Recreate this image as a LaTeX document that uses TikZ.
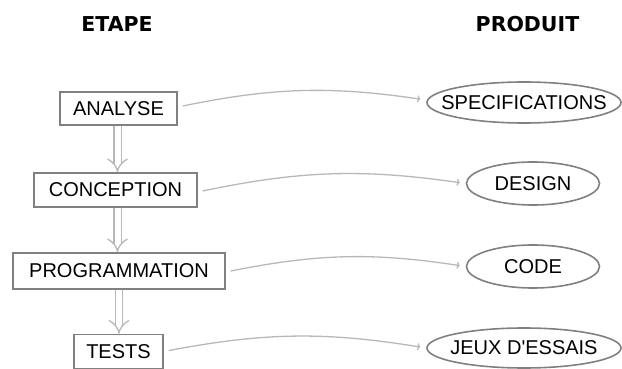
\documentclass[tikz,border=0pt]{standalone}
\usepackage{fontspec}
\setmainfont{Liberation Sans}
\newfontfamily\headfont{DejaVu Sans}
\usetikzlibrary{arrows.meta,shapes.geometric}
\definecolor{boxgray}{HTML}{808080}
\definecolor{linegray}{HTML}{B8B8B8}
\newcommand\zwtext[1]{\makebox[0pt]{#1}}
\tikzset{
  stepbox/.style={draw=boxgray, line width=1.6pt, inner sep=0pt, minimum height=34pt,
    font=\fontsize{20}{22}\selectfont},
  prodell/.style={ellipse, draw=boxgray, line width=1.6pt, inner sep=0pt,
    font=\fontsize{20}{22}\selectfont},
  heading/.style={font=\headfont\bfseries\fontsize{20.5}{22}\selectfont},
  flow/.style={draw=linegray, double=white, double distance=6pt, line width=1.3pt, -{Implies}},
  conn/.style={draw=linegray, line width=1.3pt, -{To[length=3pt,width=7pt]}, shorten <=5pt, shorten >=6pt, bend left=10}
}
\begin{document}
\begin{tikzpicture}[x=1pt,y=-1pt]
\useasboundingbox (0,0) rectangle (622,369);
\node[heading] (h1) at (117,24.5) {ETAPE};
\node[heading] (h2) at (527.5,24.5) {PRODUIT};

\node[stepbox, minimum width=117pt, minimum height=33pt] (a) at (118.5,108.5) {ANALYSE};
\node[stepbox, minimum width=163pt] (c) at (115.5,190) {CONCEPTION};
\node[stepbox, minimum width=212pt, minimum height=36pt] (p) at (119,271) {PROGRAMMATION};
\node[stepbox, minimum width=89pt] (t) at (118.5,351.5) {TESTS};

\node[prodell, minimum width=194pt, minimum height=41pt] (s) at (524,102.5) {\zwtext{SPECIFICATIONS}};
\node[prodell, minimum width=133pt, minimum height=43pt] (d) at (533,183.5) {\zwtext{DESIGN}};
\node[prodell, minimum width=133pt, minimum height=43pt] (k) at (533,266.5) {\zwtext{CODE}};
\node[prodell, minimum width=194pt, minimum height=40pt] (j) at (524,348) {\zwtext{JEUX D\textquotesingle ESSAIS}};

\draw[flow] ([xshift=-1pt]a.south) -- ([xshift=-1pt]a.south |- c.north);
\draw[flow] ([xshift=2pt]c.south) -- ([xshift=2pt]c.south |- p.north);
\draw[flow] (p.south) -- (p.south |- t.north);

\draw[conn] ([yshift=1.5pt]a.east) to ([yshift=2.5pt]s.west);
\draw[conn] ([yshift=-2pt]c.east) to (d.west);
\draw[conn] ([yshift=-1pt]p.east) to (k.west);
\draw[conn] (t.east) to (j.west);
\end{tikzpicture}
\end{document}
